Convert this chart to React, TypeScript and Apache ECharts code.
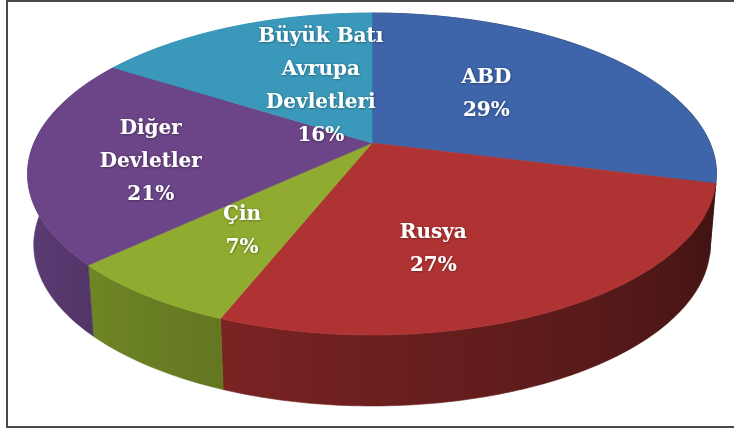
import React, { useEffect, useRef } from "react";
import * as echarts from "echarts";

// ---- data ----
const categories = ["ABD", "Rusya", "Çin", "Diğer\nDevletler", "Büyük Batı\nAvrupa\nDevletleri"];
const shares = [29, 27, 7, 21, 16];
const percentLabels = ["29%", "27%", "7%", "21%", "16%"];

// ---- styles / layout ----
const topColors = ["#3e64aa", "#b03333", "#8fac30", "#6b4587", "#3a99ba"];
// label placement inside each slice: fraction of radius, angular shift (deg) from slice middle
const labelRadius = [0.5, 0.62, 0.61, 0.65, 0.44];
const labelAngleShift = [-6, 12, 0.5, -4, 7];

const PROJ = { x0: 372, y0: 143, a: 338, b: 155, k: 0.1926, depth: 71, bottomScaleX: 0.982 };

function project(theta: number, r: number, dy = 0, sx = 1): number[] {
  const u = r * Math.sin(theta);
  const v = -r * Math.cos(theta);
  const w = 1 - PROJ.k * v;
  return [PROJ.x0 + (sx * PROJ.a * u) / w, PROJ.y0 + (PROJ.b * v) / w + dy];
}

function shade(hex: string, f: number): string {
  const n = parseInt(hex.slice(1), 16);
  const r = Math.round(((n >> 16) & 255) * f);
  const g = Math.round(((n >> 8) & 255) * f);
  const b = Math.round((n & 255) * f);
  return `rgb(${r},${g},${b})`;
}

function wallFactor(deg: number): number {
  const f = 0.35 + (deg - 104) * 0.0035;
  return Math.max(0.33, Math.min(0.9, f));
}

export default function App() {
  const ref = useRef<HTMLDivElement>(null);
  useEffect(() => {
    if (!ref.current) return;
    const chart = echarts.init(ref.current, undefined, { renderer: "svg" });
    const total = shares.reduce((s, v) => s + v, 0);
    const cum: number[] = [0];
    shares.forEach((v) => cum.push(cum[cum.length - 1] + v));
    const DEG = Math.PI / 180;

    const renderItem = (params: any, api: any) => {
      const i = params.dataIndex;
      const start = (cum[i] / total) * 2 * Math.PI;
      const end = start + (api.value(0) / total) * 2 * Math.PI;
      const steps = Math.max(4, Math.ceil((end - start) / DEG));
      const topArc: number[][] = [];
      const botArc: number[][] = [];
      for (let s = 0; s <= steps; s++) {
        const t = start + ((end - start) * s) / steps;
        topArc.push(project(t, 1));
        botArc.push(project(t, 1, PROJ.depth, PROJ.bottomScaleX));
      }
      const center = project(0, 0);
      const base = topColors[i];

      // wall gradient (front part only)
      const fs = Math.max(start, 101 * DEG);
      const fe = Math.min(end, 259 * DEG);
      let wallFill: any = shade(base, wallFactor((start + end) / 2 / DEG));
      if (fe > fs) {
        const samples: { x: number; c: string }[] = [];
        const n = 12;
        for (let s = 0; s <= n; s++) {
          const t = fs + ((fe - fs) * s) / n;
          samples.push({ x: project(t, 1)[0], c: shade(base, wallFactor(t / DEG)) });
        }
        samples.sort((p, q) => p.x - q.x);
        const x0 = samples[0].x;
        const x1 = samples[samples.length - 1].x;
        if (x1 - x0 > 1) {
          wallFill = new echarts.graphic.LinearGradient(
            x0, 0, x1, 0,
            samples.map((p) => ({ offset: (p.x - x0) / (x1 - x0), color: p.c })),
            true
          );
        }
      }

      const wallPts = topArc.concat(botArc.slice().reverse());
      const topPts = [center].concat(topArc);
      const mid = (start + end) / 2 + labelAngleShift[i] * DEG;
      const lp = project(mid, labelRadius[i]);

      return {
        type: "group",
        children: [
          {
            type: "polygon",
            z2: 1,
            shape: { points: wallPts },
            style: { fill: wallFill, stroke: wallFill, lineWidth: 0.6 },
          },
          {
            type: "polygon",
            z2: 5,
            shape: { points: topPts },
            style: { fill: base, stroke: base, lineWidth: 0.6 },
          },
          {
            type: "text",
            z2: 10,
            x: lp[0],
            y: lp[1],
            style: {
              text: categories[i] + "\n" + percentLabels[i],
              fill: "#ffffff",
              fontFamily: '"DejaVu Serif"',
              fontWeight: "bold",
              fontSize: 20,
              lineHeight: 33,
              align: "center",
              verticalAlign: "middle",
              textShadowColor: "rgba(0,0,0,0.45)",
              textShadowBlur: 2,
              textShadowOffsetX: 0.5,
              textShadowOffsetY: 0.5,
            },
          },
        ],
      };
    };

    chart.setOption({
      animation: false,
      backgroundColor: "#ffffff",
      graphic: [
        {
          type: "rect",
          shape: { x: 7, y: 1, width: 740, height: 426 },
          style: { fill: "none", stroke: "#4a4a4a", lineWidth: 2 },
          z: 0,
        },
      ],
      series: [
        {
          type: "custom",
          coordinateSystem: "none",
          renderItem,
          data: shares.map((v, i) => ({ value: v, name: categories[i] })),
        },
      ],
    });
    return () => chart.dispose();
  }, []);
  return (
    <div
      ref={ref}
      style={{ position: "absolute", left: 0, top: 0, width: 734, height: 432 }}
    />
  );
}
